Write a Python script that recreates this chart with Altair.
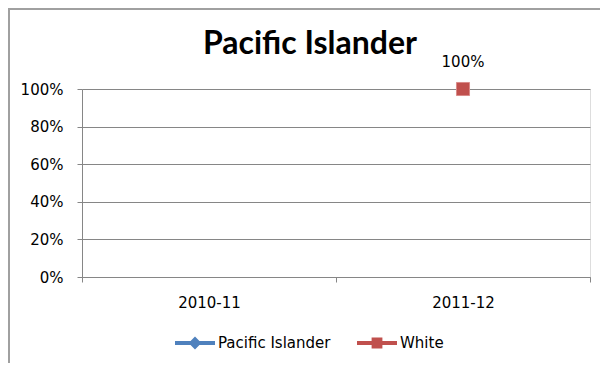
import altair as alt
import pandas as pd

categories = ["2010-11", "2011-12"]
series_names = ["Pacific Islander", "White"]
pacific_values = [None, None]
white_values = [None, 1.0]
series_colors = ["#4F81BD", "#C0504D"]
y_ticks = [0, 0.2, 0.4, 0.6, 0.8, 1.0]

rows = []
for name, vals in zip(series_names, [pacific_values, white_values]):
    for cat, v in zip(categories, vals):
        rows.append({"series": name, "year": cat, "value": v})
df = pd.DataFrame(rows)

FONT = "DejaVu Sans"
TITLE_FONT = "Lato"

# legend symbol paths: line with marker (diamond / square)
diamond_path = "M-1,-0.1 L1,-0.1 L1,0.1 L-1,0.1 Z M0,-0.32 L0.32,0 L0,0.32 L-0.32,0 Z"
square_path = "M-1,-0.1 L1,-0.1 L1,0.1 L-1,0.1 Z M-0.27,-0.27 L0.27,-0.27 L0.27,0.27 L-0.27,0.27 Z"
legend_paths = [diamond_path, square_path]
legend_x = [93, 275]

x_enc = alt.X("year:N", sort=categories,
              scale=alt.Scale(domain=categories, paddingInner=0, paddingOuter=0),
              axis=alt.Axis(title=None, labelAngle=0, tickBand="extent", tickSize=5,
                            labelPadding=13, domainColor="#868686", tickColor="#868686",
                            labelFont=FONT, labelFontSize=15, labelColor="#000000", grid=False))
y_enc = alt.Y("value:Q", scale=alt.Scale(domain=[0, 1], nice=False),
              axis=alt.Axis(title=None, values=y_ticks, format="%", tickSize=5,
                            labelPadding=14, domainColor="#868686", tickColor="#868686",
                            gridColor="#868686", labelFont=FONT, labelFontSize=15,
                            labelColor="#000000"))

border_data = alt.Data(values=[{}])
border_top = alt.Chart(border_data).mark_rule(stroke="#a0a0a0", strokeWidth=2).encode(
    x=alt.value(-74), x2=alt.value(700), y=alt.value(-80))
border_left = alt.Chart(border_data).mark_rule(stroke="#a0a0a0", strokeWidth=2).encode(
    x=alt.value(-73), y=alt.value(-81), y2=alt.value(450))

points = alt.Chart(df).mark_point(shape="square", filled=True, size=170, opacity=1,
                                  stroke="#d98a88", strokeWidth=1).encode(
    x=x_enc, y=y_enc,
    color=alt.Color("series:N", scale=alt.Scale(domain=series_names, range=series_colors),
                    legend=None),
)

legend_layers = []
for name, col, path, lx in zip(series_names, series_colors, legend_paths, legend_x):
    legend_layers.append(
        alt.Chart(df).transform_filter(
            f"datum.series === '{name}' && datum.value === null"
        ).mark_point(filled=True, size=1600, opacity=1, strokeWidth=0).encode(
            x=x_enc, y=y_enc,
            color=alt.Color("series:N", scale=alt.Scale(domain=[name], range=[col]),
                            legend=alt.Legend(title=None, orient="none", direction="horizontal",
                                              legendX=lx, legendY=234,
                                              symbolType=path, symbolSize=1600,
                                              symbolStrokeWidth=0, symbolFillColor=col,
                                              labelFont=FONT, labelFontSize=15,
                                              labelColor="#000000", labelOffset=3)),
        )
    )

labels = alt.Chart(df).mark_text(dy=-27, font=FONT, fontSize=15, color="#000000").encode(
    x=x_enc, y=y_enc, text=alt.Text("value:Q", format=".0%")
).transform_filter("datum.value !== null")

chart = alt.layer(border_top, border_left, points, *legend_layers, labels).resolve_scale(
    color="independent"
).properties(
    width=508, height=188,
    title=alt.TitleParams("Pacific Islander", font=TITLE_FONT, fontSize=32, fontWeight="bold",
                          color="#000000", anchor="middle", frame="group", dx=-26,
                          offset=0, baseline="alphabetic", dy=79),
    padding={"left": 74, "top": 81, "right": 10, "bottom": 86},
    autosize=alt.AutoSizeParams(type="none"),
).configure_view(strokeWidth=0).configure(background="#ffffff")

chart.save("out.html", embed_options={"renderer": "svg", "actions": False})
